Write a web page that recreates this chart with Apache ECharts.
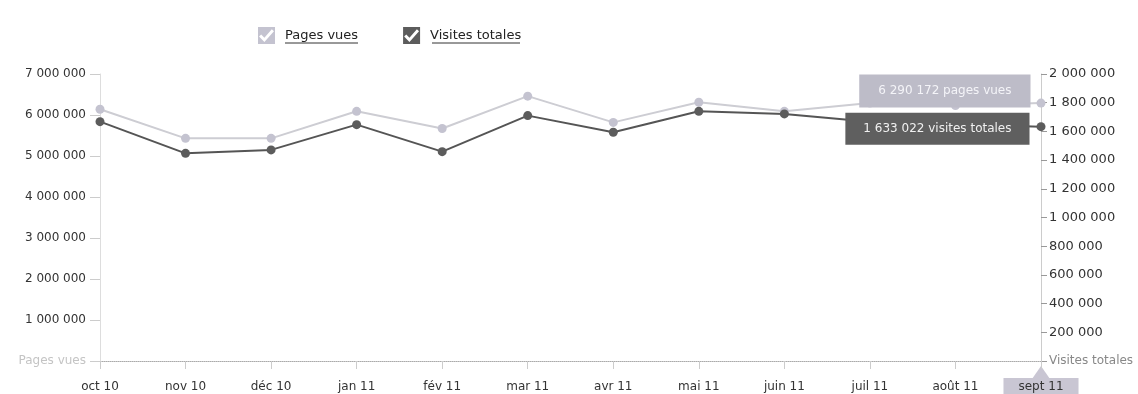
<!DOCTYPE html>
<html>
<head>
<meta charset="utf-8">
<script src="https://cdn.jsdelivr.net/npm/echarts@6/dist/echarts.min.js"></script>
<style>html,body{margin:0;padding:0;background:#fff;}#c{width:1138px;height:394px;}</style>
</head>
<body>
<div id="c"></div>
<script>
const categories = ['oct 10','nov 10','déc 10','jan 11','fév 11','mar 11','avr 11','mai 11','juin 11','juil 11','août 11','sept 11'];
const pagesVues = [6140000, 5430000, 5430000, 6090000, 5670000, 6460000, 5820000, 6310000, 6090000, 6290000, 6230000, 6290172];
const visitesTotales = [1668000, 1447000, 1471000, 1647000, 1459000, 1710000, 1594000, 1740000, 1722000, 1668000, 1650000, 1633022];
const leftTicks = {min: 0, max: 7000000, interval: 1000000};
const rightTicks = {min: 0, max: 2000000, interval: 200000};

const FONT = 'DejaVu Sans';
function fmt(v) { return String(Math.round(v)).replace(/\B(?=(\d{3})+(?!\d))/g, ' '); }
const last = categories.length - 1;
const checkIcon = 'path://M0,0L16,0L16,16L0,16Z M1,9L6,14L15,4L13,2L6,10L3,7Z';

const chart = echarts.init(document.getElementById('c'), null, {renderer: 'canvas'});

const pagesData = pagesVues.map((v, i) => i === last ? {
  value: v,
  label: {
    show: true, position: 'left', distance: 6, offset: [0, -12],
    formatter: p => fmt(p.value) + ' pages vues',
    backgroundColor: '#bdbcc8', color: '#f4f4f8', fontFamily: FONT, fontSize: 12,
    padding: [10, 19, 11, 19]
  }
} : v);
const visitesData = visitesTotales.map((v, i) => i === last ? {
  value: v,
  label: {
    show: true, position: 'left', distance: 7, offset: [0, 2],
    formatter: p => fmt(p.value) + ' visites totales',
    backgroundColor: '#5f5f5f', color: '#f0f0f0', fontFamily: FONT, fontSize: 12,
    padding: [10, 18]
  }
} : v);

chart.setOption({
  animation: false,
  backgroundColor: '#ffffff',
  textStyle: {fontFamily: FONT},
  legend: {
    left: 258, top: 27, padding: 0, itemWidth: 17, itemHeight: 17, itemGap: 45,
    icon: checkIcon,
    textStyle: {fontFamily: FONT, fontSize: 13, color: '#222', padding: [0, 0, 0, 5]},
    data: ['Pages vues', 'Visites totales'],
    selectedMode: false
  },
  grid: {left: 100, right: 97, top: 74, bottom: 33, outerBoundsMode: 'none', containLabel: false},
  xAxis: {
    type: 'category', data: categories, boundaryGap: false,
    axisLine: {lineStyle: {color: '#aaaaaa', type: 'dotted', width: 1}},
    axisTick: {show: true, length: 8, lineStyle: {color: '#cccccc'}},
    axisLabel: {
      margin: 17, interval: 0,
      formatter: (v, i) => i === last ? '{hl|' + v + '}' : '{n|' + v + '}',
      rich: {
        n: {fontFamily: FONT, fontSize: 12, color: '#333', padding: [3, 15, 6, 15]},
        hl: {fontFamily: FONT, fontSize: 12, color: '#333', padding: [3, 15, 6, 15], backgroundColor: '#c9c6d3'}
      }
    },
    splitLine: {show: false}
  },
  yAxis: [{
    type: 'value', position: 'left', min: leftTicks.min, max: leftTicks.max, interval: leftTicks.interval,
    axisLine: {show: true, lineStyle: {color: '#dddddd'}},
    axisTick: {show: true, length: 10, lineStyle: {color: '#cccccc'}},
    splitLine: {show: false},
    axisLabel: {
      margin: 14, fontFamily: FONT, fontSize: 12, color: '#333',
      formatter: v => v === 0 ? '{nm|Pages vues}' : fmt(v),
      rich: {nm: {fontFamily: FONT, fontSize: 12, color: '#c4c4c4'}}
    }
  }, {
    type: 'value', position: 'right', min: rightTicks.min, max: rightTicks.max, interval: rightTicks.interval,
    axisLine: {show: true, lineStyle: {color: '#cccccc'}},
    axisTick: {show: true, length: 6, lineStyle: {color: '#999999'}},
    splitLine: {show: false},
    axisLabel: {
      margin: 8, fontFamily: FONT, fontSize: 13, color: '#333',
      formatter: v => v === 0 ? '{nm|Visites totales}' : fmt(v),
      rich: {nm: {fontFamily: FONT, fontSize: 12, color: '#888'}}
    }
  }],
  series: [{
    name: 'Pages vues', type: 'line', yAxisIndex: 0, data: pagesData,
    symbol: 'circle', symbolSize: 9,
    lineStyle: {color: '#cdcdd3', width: 2},
    itemStyle: {color: '#c4c3d0'},
    z: 2
  }, {
    name: 'Visites totales', type: 'line', yAxisIndex: 1, data: visitesData,
    symbol: 'circle', symbolSize: 9,
    lineStyle: {color: '#555555', width: 2},
    itemStyle: {color: '#5c5c5c'},
    z: 3
  }]
});

// decorations: legend underlines and pointer arrow on the highlighted month
const px = chart.convertToPixel({xAxisIndex: 0}, categories[last]);
const baseY = chart.convertToPixel({yAxisIndex: 0}, 0);
chart.setOption({
  graphic: [
    {type: 'line', shape: {x1: 285, y1: 43, x2: 358, y2: 43}, style: {stroke: '#333', lineWidth: 1}},
    {type: 'line', shape: {x1: 432, y1: 43, x2: 520, y2: 43}, style: {stroke: '#333', lineWidth: 1}},
    {type: 'polygon', shape: {points: [[px - 9, baseY + 18], [px + 9, baseY + 18], [px, baseY + 5]]}, style: {fill: '#c9c6d3'}}
  ]
});
</script>
</body>
</html>
